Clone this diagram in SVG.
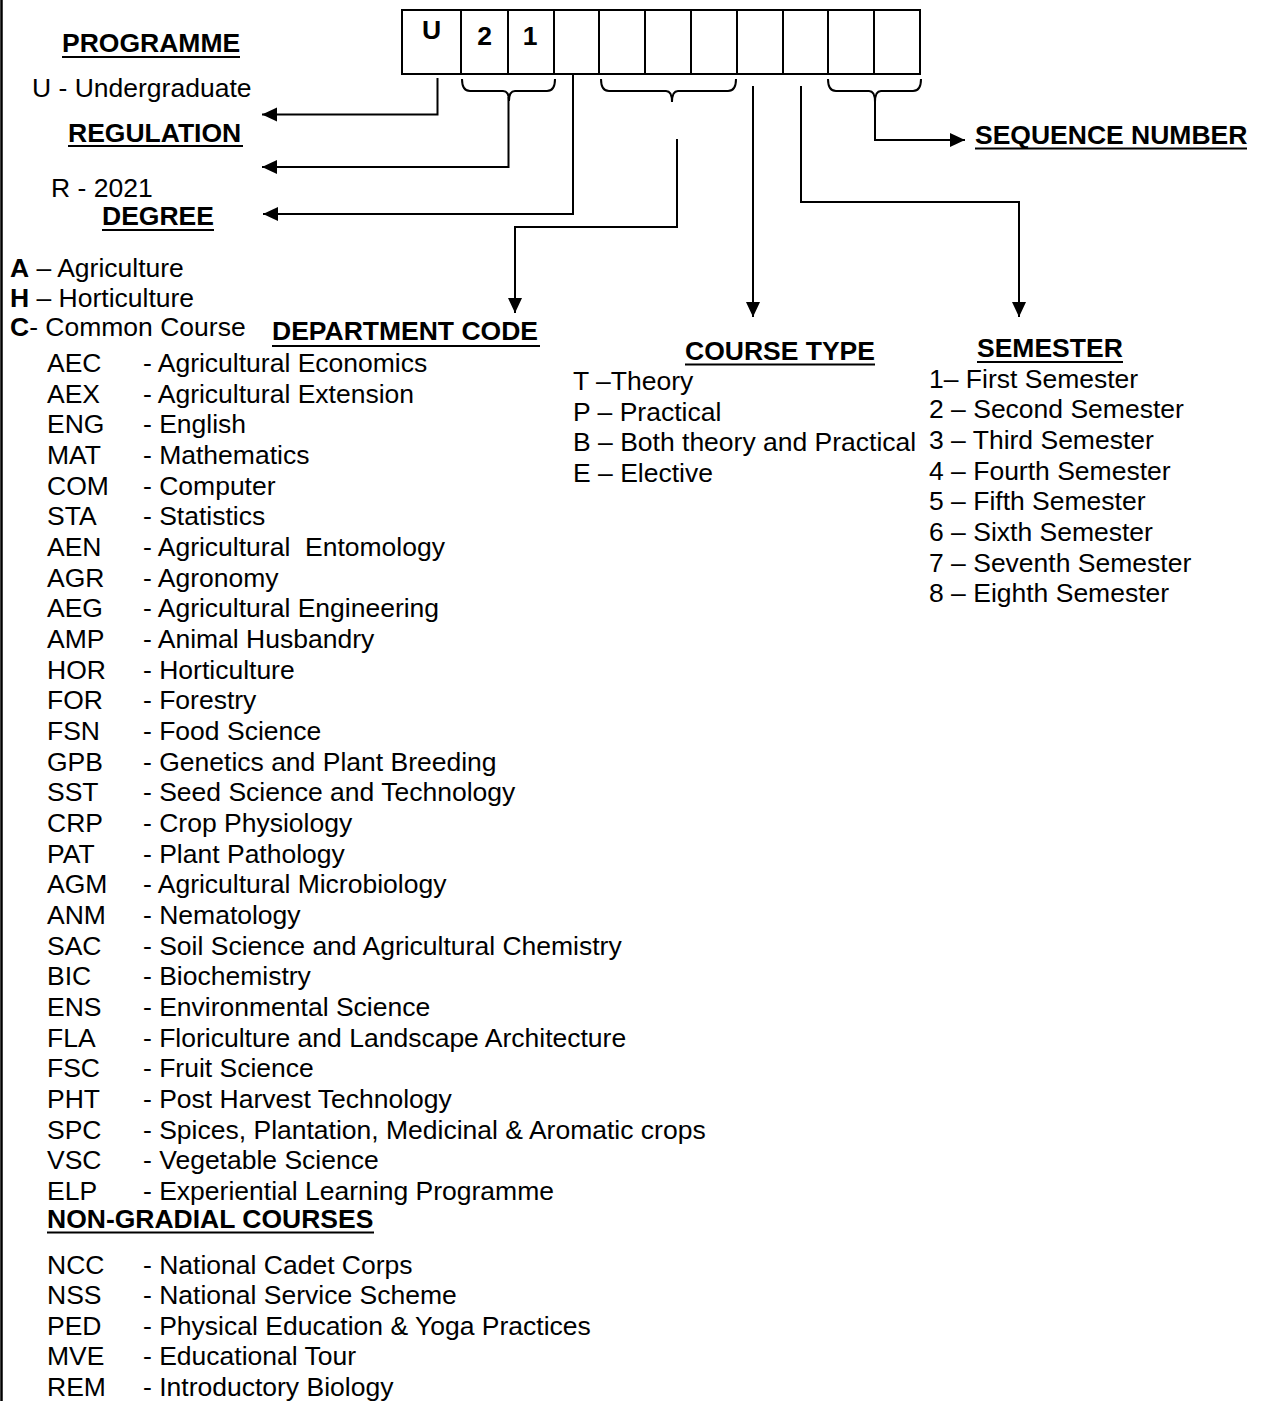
<svg xmlns="http://www.w3.org/2000/svg" width="1264" height="1401" viewBox="0 0 1264 1401">
<style>
text{font-family:"Liberation Sans",Arial,Helvetica,sans-serif;font-size:26.5px;fill:#000}
.h{font-weight:bold}
.b{font-weight:bold}
.ul{stroke:#000;stroke-width:2}
.ln{fill:none;stroke:#000;stroke-width:2}
.box{fill:#fff;stroke:#000;stroke-width:2}
.pre{white-space:pre}
</style>
<defs>
<marker id="ah" markerUnits="userSpaceOnUse" markerWidth="16" markerHeight="15" refX="15" refY="7" orient="auto">
<path d="M0,0 L15,7 L0,14 z" fill="#000"/>
</marker>
</defs>
<rect x="0" y="0" width="1264" height="1401" fill="#fff"/>
<line x1="1.5" y1="0" x2="1.5" y2="1401" stroke="#000" stroke-width="2.5"/>

<g id="code-boxes">
<rect class="box" x="402" y="10" width="518" height="64"/>
<path class="ln" d="M461,10V74M508,10V74M554,10V74M599,10V74M645,10V74M691,10V74M737,10V74M783,10V74M828,10V74M874,10V74"/>
<text class="b" x="431.5" y="38.5" text-anchor="middle" font-size="28">U</text>
<text class="b" x="484.5" y="45" text-anchor="middle" font-size="30">2</text>
<text class="b" x="530" y="45" text-anchor="middle" font-size="30">1</text>
</g>

<g id="connectors">
<path class="ln" d="M462,79 Q462,91 470,91 L503,91 Q509,91 509,101 Q509,91 515,91 L547,91 Q555,91 555,79"/>
<path class="ln" d="M601,79 Q601,91 609,91 L666,91 Q672,91 672,102 Q672,91 678,91 L728,91 Q736,91 736,79"/>
<path class="ln" d="M828,79 Q828,91 836,91 L869,91 Q875,91 875,102 Q875,91 881,91 L913,91 Q921,91 921,79"/>
<path class="ln" d="M437.5,78 V114.5 H262" marker-end="url(#ah)"/>
<path class="ln" d="M508.5,97 V167 H262" marker-end="url(#ah)"/>
<path class="ln" d="M573,74 V214 H263" marker-end="url(#ah)"/>
<path class="ln" d="M677,139 V227 H515 V313" marker-end="url(#ah)"/>
<path class="ln" d="M753,86 V317" marker-end="url(#ah)"/>
<path class="ln" d="M801,86 V202 H1019 V317" marker-end="url(#ah)"/>
<path class="ln" d="M875,101 V140 H965" marker-end="url(#ah)"/>
</g>

<g id="programme">
<text class="h" x="62" y="52">PROGRAMME</text>
<line class="ul" x1="62" y1="57" x2="240" y2="57"/>
<text x="32" y="96.5">U - Undergraduate</text>
</g>

<g id="regulation">
<text class="h" x="68" y="141.5">REGULATION</text>
<line class="ul" x1="68" y1="146" x2="243" y2="146"/>
<text x="51" y="196.5">R - 2021</text>
</g>

<g id="degree">
<text class="h" x="102" y="225">DEGREE</text>
<line class="ul" x1="102" y1="230" x2="214" y2="230"/>
<text x="10" y="277"><tspan class="b">A</tspan> – Agriculture</text>
<text x="10" y="306.5"><tspan class="b">H</tspan> – Horticulture</text>
<text x="10" y="336"><tspan class="b">C</tspan>- Common Course</text>
</g>

<g id="department-code">
<text class="h" x="272" y="340">DEPARTMENT CODE</text>
<line class="ul" x1="272" y1="346" x2="540" y2="346"/>
<text y="372"><tspan x="47">AEC</tspan><tspan x="143">- Agricultural Economics</tspan></text>
<text y="402.7"><tspan x="47">AEX</tspan><tspan x="143">- Agricultural Extension</tspan></text>
<text y="433.3"><tspan x="47">ENG</tspan><tspan x="143">- English</tspan></text>
<text y="464"><tspan x="47">MAT</tspan><tspan x="143">- Mathematics</tspan></text>
<text y="494.7"><tspan x="47">COM</tspan><tspan x="143">- Computer</tspan></text>
<text y="525.3"><tspan x="47">STA</tspan><tspan x="143">- Statistics</tspan></text>
<text y="556" class="pre" xml:space="preserve"><tspan x="47">AEN</tspan><tspan x="143">- Agricultural  Entomology</tspan></text>
<text y="586.7"><tspan x="47">AGR</tspan><tspan x="143">- Agronomy</tspan></text>
<text y="617.3"><tspan x="47">AEG</tspan><tspan x="143">- Agricultural Engineering</tspan></text>
<text y="648"><tspan x="47">AMP</tspan><tspan x="143">- Animal Husbandry</tspan></text>
<text y="678.7"><tspan x="47">HOR</tspan><tspan x="143">- Horticulture</tspan></text>
<text y="709.3"><tspan x="47">FOR</tspan><tspan x="143">- Forestry</tspan></text>
<text y="740"><tspan x="47">FSN</tspan><tspan x="143">- Food Science</tspan></text>
<text y="770.7"><tspan x="47">GPB</tspan><tspan x="143">- Genetics and Plant Breeding</tspan></text>
<text y="801.3"><tspan x="47">SST</tspan><tspan x="143">- Seed Science and Technology</tspan></text>
<text y="832"><tspan x="47">CRP</tspan><tspan x="143">- Crop Physiology</tspan></text>
<text y="862.7"><tspan x="47">PAT</tspan><tspan x="143">- Plant Pathology</tspan></text>
<text y="893.3"><tspan x="47">AGM</tspan><tspan x="143">- Agricultural Microbiology</tspan></text>
<text y="924"><tspan x="47">ANM</tspan><tspan x="143">- Nematology</tspan></text>
<text y="954.7"><tspan x="47">SAC</tspan><tspan x="143">- Soil Science and Agricultural Chemistry</tspan></text>
<text y="985.3"><tspan x="47">BIC</tspan><tspan x="143">- Biochemistry</tspan></text>
<text y="1016"><tspan x="47">ENS</tspan><tspan x="143">- Environmental Science</tspan></text>
<text y="1046.7"><tspan x="47">FLA</tspan><tspan x="143">- Floriculture and Landscape Architecture</tspan></text>
<text y="1077.3"><tspan x="47">FSC</tspan><tspan x="143">- Fruit Science</tspan></text>
<text y="1108"><tspan x="47">PHT</tspan><tspan x="143">- Post Harvest Technology</tspan></text>
<text y="1138.7"><tspan x="47">SPC</tspan><tspan x="143">- Spices, Plantation, Medicinal &amp; Aromatic crops</tspan></text>
<text y="1169.3"><tspan x="47">VSC</tspan><tspan x="143">- Vegetable Science</tspan></text>
<text y="1200"><tspan x="47">ELP</tspan><tspan x="143">- Experiential Learning Programme</tspan></text>
</g>

<g id="non-gradial-courses">
<text class="h" x="47" y="1227.5">NON-GRADIAL COURSES</text>
<line class="ul" x1="47" y1="1232.5" x2="374" y2="1232.5"/>
<text y="1273.5"><tspan x="47">NCC</tspan><tspan x="143">- National Cadet Corps</tspan></text>
<text y="1304"><tspan x="47">NSS</tspan><tspan x="143">- National Service Scheme</tspan></text>
<text y="1334.5"><tspan x="47">PED</tspan><tspan x="143">- Physical Education &amp; Yoga Practices</tspan></text>
<text y="1365"><tspan x="47">MVE</tspan><tspan x="143">- Educational Tour</tspan></text>
<text y="1395.5"><tspan x="47">REM</tspan><tspan x="143">- Introductory Biology</tspan></text>
</g>

<g id="course-type">
<text class="h" x="685" y="359.5">COURSE TYPE</text>
<line class="ul" x1="685" y1="364.5" x2="875" y2="364.5"/>
<text x="573" y="390">T –Theory</text>
<text x="573" y="420.7">P – Practical</text>
<text x="573" y="451.3">B – Both theory and Practical</text>
<text x="573" y="482">E – Elective</text>
</g>

<g id="semester">
<text class="h" x="977" y="357">SEMESTER</text>
<line class="ul" x1="977" y1="362" x2="1123" y2="362"/>
<text x="929" y="387.5">1– First Semester</text>
<text x="929" y="418.2">2 – Second Semester</text>
<text x="929" y="448.9">3 – Third Semester</text>
<text x="929" y="479.6">4 – Fourth Semester</text>
<text x="929" y="510.3">5 – Fifth Semester</text>
<text x="929" y="541">6 – Sixth Semester</text>
<text x="929" y="571.7">7 – Seventh Semester</text>
<text x="929" y="602.4">8 – Eighth Semester</text>
</g>

<g id="sequence-number">
<text class="h" x="975" y="143.5">SEQUENCE NUMBER</text>
<line class="ul" x1="975" y1="148.5" x2="1247" y2="148.5"/>
</g>
</svg>
